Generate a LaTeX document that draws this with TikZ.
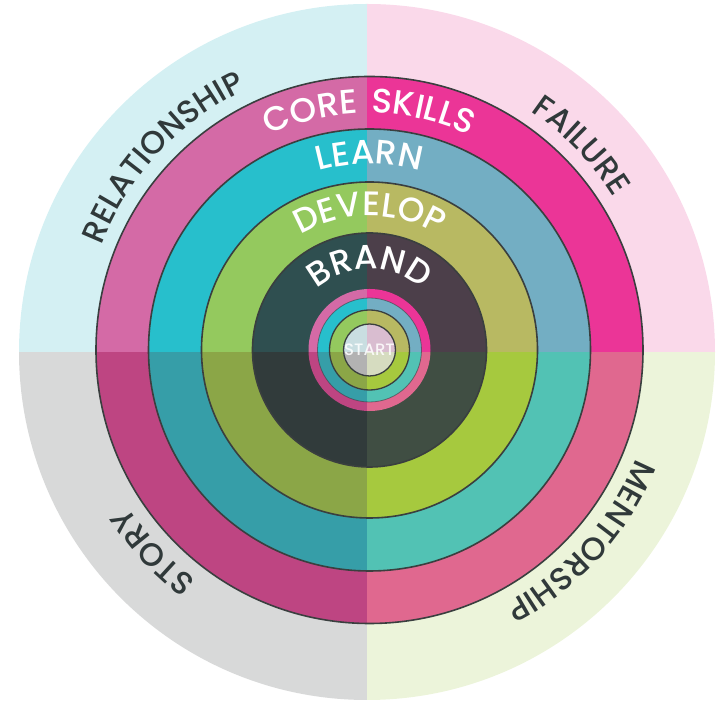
\documentclass[tikz,border=0pt]{standalone}
\usepackage{fontspec}
\setmainfont{Poppins}
\IfFontExistsTF{Poppins Medium}
  {\newfontfamily\lblfont{Poppins Medium}[LetterSpace=13]
   \newfontfamily\startfont{Poppins Medium}}
  {\newfontfamily\lblfont{Poppins}[LetterSpace=13, FakeBold=0.6]
   \newfontfamily\startfont{Poppins}}
\usetikzlibrary{decorations.text}

\definecolor{oTL}{HTML}{D4F0F3}
\definecolor{oTR}{HTML}{FAD9EA}
\definecolor{oBL}{HTML}{D8D9D9}
\definecolor{oBR}{HTML}{ECF4DA}
\definecolor{cTL}{HTML}{D46AA6}
\definecolor{cTR}{HTML}{EB3597}
\definecolor{cBL}{HTML}{BE4582}
\definecolor{cBR}{HTML}{E0688F}
\definecolor{lTL}{HTML}{27BFCC}
\definecolor{lTR}{HTML}{73AEC3}
\definecolor{lBL}{HTML}{369EA8}
\definecolor{lBR}{HTML}{52C2B4}
\definecolor{dTL}{HTML}{94C95E}
\definecolor{dTR}{HTML}{B8B962}
\definecolor{dBL}{HTML}{8BA647}
\definecolor{dBR}{HTML}{A6C93E}
\definecolor{bTL}{HTML}{2F4F50}
\definecolor{bTR}{HTML}{4C3F4A}
\definecolor{bBL}{HTML}{313B3B}
\definecolor{bBR}{HTML}{404E43}
\definecolor{sTL}{HTML}{C9DEE1}
\definecolor{sTR}{HTML}{D9BDD0}
\definecolor{sBL}{HTML}{B2B2B2}
\definecolor{sBR}{HTML}{D6DCC0}
\definecolor{ringline}{HTML}{3A3F3F}
\definecolor{outertext}{HTML}{30393A}

\newcommand\qdisk[6]{%
  \begin{scope}
    \clip (#1) circle (#2);
    \fill[#3] (S) rectangle ++(-400,400);
    \fill[#4] (S) rectangle ++(400,400);
    \fill[#5] (S) rectangle ++(-400,-400);
    \fill[#6] (S) rectangle ++(400,-400);
  \end{scope}}

\tikzset{
  edgeline/.style={draw=ringline, line width=1.6pt},
  innerlabel/.style={decorate, decoration={text along path, text align=center,
      text={|\lblfont\fontsize{34}{34}\selectfont\color{white}|#1}}},
  outerlabel/.style={decorate, decoration={text along path, text align=center,
      text={|\lblfont\fontsize{32}{32}\selectfont\color{outertext}|#1}}}
}

\begin{document}
\begin{tikzpicture}[x=1pt,y=1pt]
\useasboundingbox (0,0) rectangle (716,704);
\coordinate (S) at (367,352);
\coordinate (C) at (369.5,354);

% outer pale disk
\qdisk{S}{348}{oTL}{oTR}{oBL}{oBR}
% rings
\qdisk{C}{273.5}{cTL}{cTR}{cBL}{cBR}
\qdisk{C}{221}{lTL}{lTR}{lBL}{lBR}
\qdisk{C}{168}{dTL}{dTR}{dBL}{dBR}
\qdisk{C}{117}{bTL}{bTR}{bBL}{bBR}
\qdisk{C}{61}{cTL}{cTR}{cBL}{cBR}
\qdisk{C}{52}{lTL}{lTR}{lBL}{lBR}
\qdisk{C}{40}{dTL}{dTR}{dBL}{dBR}
\qdisk{C}{26}{sTL}{sTR}{sBL}{sBR}

% outlines
\draw[edgeline] (C) circle (273.5);
\draw[edgeline] (C) circle (221);
\draw[edgeline] (C) circle (168);
\draw[edgeline] (C) circle (117);
\draw[edgeline, line width=0.8pt, draw opacity=0.6] (C) circle (52);
\draw[edgeline, line width=1.3pt] (C) circle (40);
\draw[edgeline, line width=1.3pt] (C) circle (26);

% inner labels
\path[innerlabel={CORE SKILLS}] ([shift={(170:237)}]C) arc[start angle=170, end angle=10, radius=237];
\path[innerlabel={LEARN}] ([shift={(170:186)}]C) arc[start angle=170, end angle=10, radius=186];
\path[innerlabel={DEVELOP}] ([shift={(175:134)}]C) arc[start angle=175, end angle=5, radius=134];
\path[innerlabel={BRAND}] ([shift={(178:81)}]C) arc[start angle=178, end angle=2, radius=81];

% outer labels
\path[outerlabel={RELATIONSHIP}] ([shift={(190:288)}]C) arc[start angle=190, end angle=84, radius=288];
\path[outerlabel={FAILURE}] ([shift={(94:288)}]C) arc[start angle=94, end angle=-6, radius=288];
\path[outerlabel={STORY}] ([shift={(273:288)}]C) arc[start angle=273, end angle=173, radius=288];
\path[outerlabel={MENTORSHIP}] ([shift={(11:288)}]C) arc[start angle=11, end angle=-95, radius=288];

\node[text=white, text opacity=0.85, font=\startfont\fontsize{16.5}{16.5}\selectfont, inner sep=0pt] (start) at (C) {START};
\end{tikzpicture}
\end{document}
